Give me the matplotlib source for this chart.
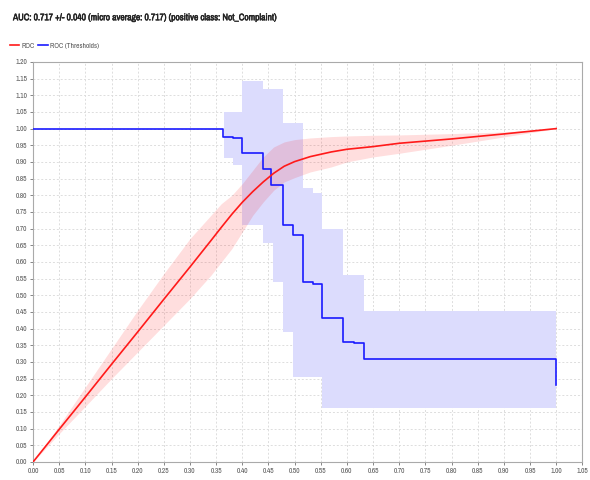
import numpy as np
import matplotlib.pyplot as plt
import matplotlib.patheffects as pe
from matplotlib import font_manager
from matplotlib.ticker import MultipleLocator, FormatStrFormatter

# ROC curve (mean) and its +/- band
roc_fpr = [0.0, 0.05, 0.10, 0.15, 0.20, 0.25, 0.30, 0.34, 0.36, 0.38, 0.40, 0.42, 0.44, 0.46,
           0.48, 0.50, 0.53, 0.57, 0.60, 0.65, 0.70, 0.80, 0.90, 1.0]
roc_tpr = [0.0, 0.098, 0.195, 0.293, 0.39, 0.488, 0.585, 0.664, 0.704, 0.743, 0.779, 0.811,
           0.84, 0.866, 0.887, 0.901, 0.916, 0.93, 0.938, 0.946, 0.956, 0.969, 0.984, 1.0]
roc_upper = [0.0, 0.11, 0.225, 0.34, 0.455, 0.565, 0.67, 0.74, 0.775, 0.80, 0.835, 0.875,
             0.915, 0.945, 0.96, 0.967, 0.972, 0.976, 0.978, 0.98, 0.981, 0.985, 0.99, 1.0]
roc_lower = [0.0, 0.085, 0.167, 0.25, 0.33, 0.41, 0.49, 0.56, 0.60, 0.64, 0.69, 0.74,
             0.78, 0.815, 0.84, 0.853, 0.87, 0.885, 0.9, 0.915, 0.926, 0.95, 0.975, 1.0]

# ROC (Thresholds) step curve
thr_x = [0.0, 0.363, 0.382, 0.40, 0.44, 0.455, 0.478, 0.497, 0.516, 0.535, 0.553,
         0.592, 0.613, 0.632, 1.0]
thr_y = [1.0, 0.976, 0.971, 0.926, 0.88, 0.831, 0.711, 0.681, 0.539, 0.533, 0.433,
         0.361, 0.356, 0.308, 0.23]

# threshold band
band_x = [0.365, 0.382, 0.40, 0.44, 0.459, 0.478, 0.497, 0.516, 0.535, 0.553, 0.592, 0.632, 1.0]
band_upper = [1.05, 1.05, 1.144, 1.118, 1.118, 1.016, 1.016, 0.821, 0.806, 0.70, 0.561, 0.453, 0.453]
band_lower = [0.911, 0.891, 0.711, 0.656, 0.541, 0.391, 0.256, 0.256, 0.256, 0.161, 0.161, 0.161, 0.161]

title = "AUC: 0.717 +/- 0.040 (micro average: 0.717) (positive class: Not_Complaint)"

# narrow font if there is one
narrow = None
for f in font_manager.fontManager.ttflist:
    if 'Narrow' in f.name:
        narrow = f.name
        break
if narrow:
    plt.rcParams['font.family'] = [narrow, 'DejaVu Sans']
else:
    plt.rcParams['font.family'] = ['DejaVu Sans']
    plt.rcParams['font.stretch'] = 'condensed'

fig = plt.figure(figsize=(5.9, 4.8), dpi=100)
ax = fig.add_axes([0.056, 0.0375, 0.931, 0.8335])

ax.fill_between(band_x, band_lower, band_upper, step='post', color='#dcdcfd', lw=0, zorder=1)
ax.fill_between(roc_fpr, roc_lower, roc_upper, color='#ff0000', alpha=0.13, lw=0, zorder=2)
ax.plot(thr_x, thr_y, drawstyle='steps-post', color='#1a1aff', lw=1.2, label="ROC (Thresholds)", zorder=3)
ax.plot(roc_fpr, roc_tpr, color='#ff1a1a', lw=1.2, label="ROC", zorder=4)

ax.set_xlim(0, 1.05)
ax.set_ylim(0, 1.2)
ax.xaxis.set_major_locator(MultipleLocator(0.05))
ax.yaxis.set_major_locator(MultipleLocator(0.05))
ax.xaxis.set_major_formatter(FormatStrFormatter('%.2f'))
ax.yaxis.set_major_formatter(FormatStrFormatter('%.2f'))
ax.tick_params(labelsize=5.3, colors='#555555', length=2, width=0.5, pad=2)
ax.grid(True, color='#dddddd', linestyle=(0, (2, 2)), linewidth=0.7)
ax.set_axisbelow(True)
for s in ax.spines.values():
    s.set_color('#aaaaaa')
    s.set_linewidth(0.8)

fig.text(0.022, 0.963, title, fontsize=6.8, fontweight='bold', color='#222222', va='center',
         path_effects=[pe.withStroke(linewidth=0.35, foreground='#222222')])

h, l = ax.get_legend_handles_labels()
fig.legend(h[::-1], l[::-1], loc='center left', bbox_to_anchor=(0.005, 0.905), ncol=2,
           frameon=False, fontsize=5.3, handlelength=1.3, handletextpad=0.3,
           columnspacing=0.5, labelcolor='#555555')

fig.savefig("out.png", dpi=100)
